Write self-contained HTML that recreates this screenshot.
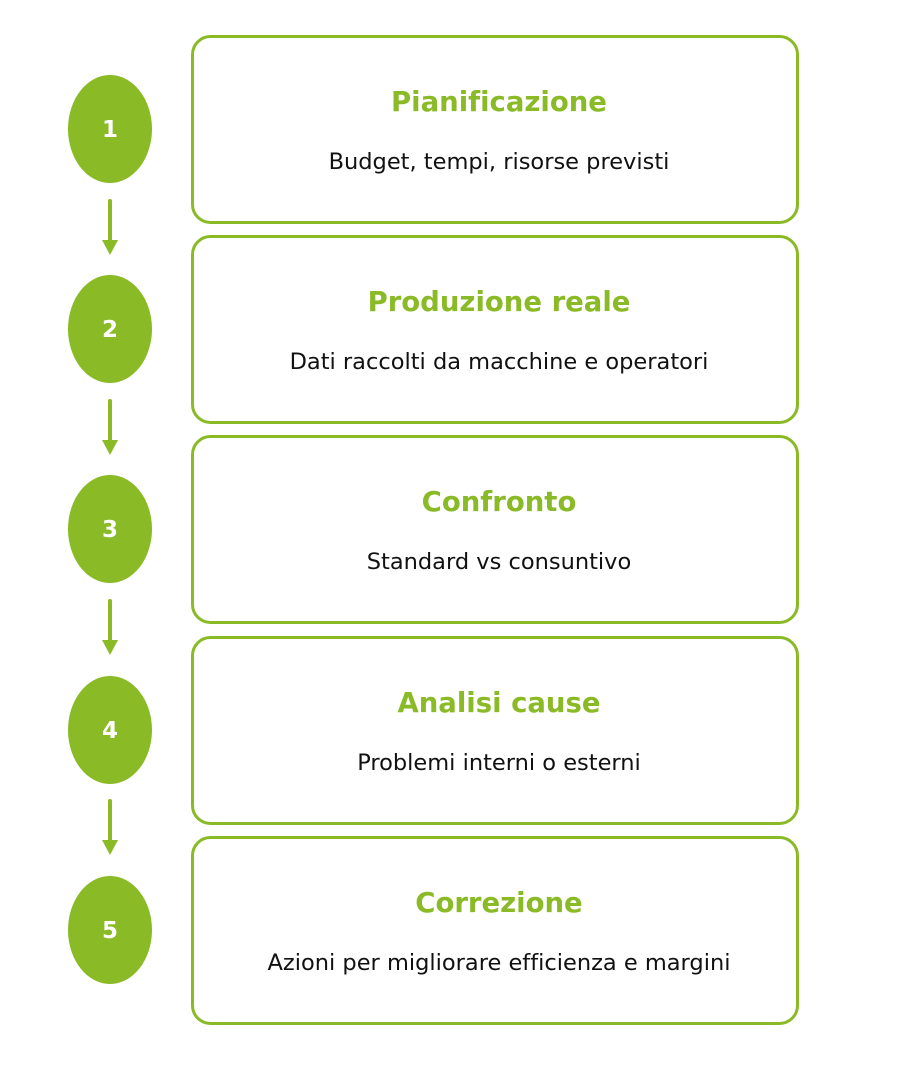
<!DOCTYPE html>
<html><head><meta charset="utf-8"><style>
html,body{margin:0;padding:0;background:#fff;width:900px;height:1080px;overflow:hidden}
text{font-variant-ligatures:none;font-feature-settings:"liga" 0}
</style></head><body>
<svg width="900" height="1080" viewBox="0 0 900 1080" xmlns="http://www.w3.org/2000/svg" font-family="DejaVu Sans, sans-serif">
<g fill="none" stroke="#8aba26" stroke-width="3">
<rect x="192.5" y="36.5" width="605" height="186" rx="18"/>
<rect x="192.5" y="236.5" width="605" height="186" rx="18"/>
<rect x="192.5" y="436.5" width="605" height="186" rx="18"/>
<rect x="192.5" y="637.5" width="605" height="186" rx="18"/>
<rect x="192.5" y="837.5" width="605" height="186" rx="18"/>
</g>
<g fill="#8aba26">
<ellipse cx="110" cy="129" rx="42" ry="54"/>
<ellipse cx="110" cy="329" rx="42" ry="54"/>
<ellipse cx="110" cy="529" rx="42" ry="54"/>
<ellipse cx="110" cy="730" rx="42" ry="54"/>
<ellipse cx="110" cy="930" rx="42" ry="54"/>
</g>
<g stroke="#8aba26" stroke-width="4" stroke-linecap="round">
<line x1="110" y1="201" x2="110" y2="245"/>
<line x1="110" y1="401" x2="110" y2="445"/>
<line x1="110" y1="601" x2="110" y2="645"/>
<line x1="110" y1="801" x2="110" y2="845"/>
</g>
<g fill="#8aba26">
<path d="M102 240 L118 240 L110 255 Z"/>
<path d="M102 440 L118 440 L110 455 Z"/>
<path d="M102 640 L118 640 L110 655 Z"/>
<path d="M102 840 L118 840 L110 855 Z"/>
</g>
<g fill="#fff" font-weight="bold" font-size="23" text-anchor="middle">
<text x="110" y="137">1</text>
<text x="110" y="337">2</text>
<text x="110" y="537">3</text>
<text x="110" y="738">4</text>
<text x="110" y="938">5</text>
</g>
<g fill="#8aba26" font-weight="bold" font-size="27.5" text-anchor="middle">
<text x="499" y="111">Pianificazione</text>
<text x="499" y="311">Produzione reale</text>
<text x="499" y="511">Confronto</text>
<text x="499" y="712">Analisi cause</text>
<text x="499" y="912">Correzione</text>
</g>
<g fill="#111" font-size="22.5" text-anchor="middle">
<text x="499" y="169">Budget, tempi, risorse previsti</text>
<text x="499" y="369">Dati raccolti da macchine e operatori</text>
<text x="499" y="569">Standard vs consuntivo</text>
<text x="499" y="770">Problemi interni o esterni</text>
<text x="499" y="970">Azioni per migliorare efficienza e margini</text>
</g>
</svg>
</body></html>
